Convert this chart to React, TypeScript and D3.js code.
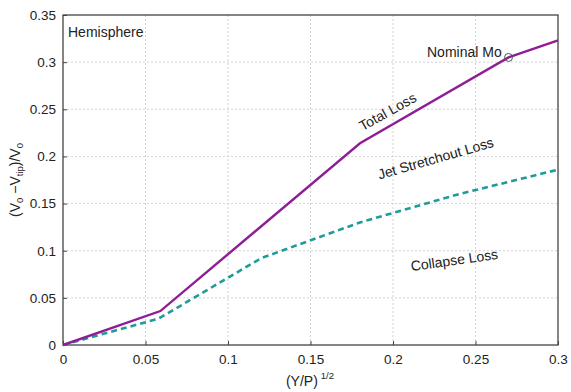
import React, { useEffect, useRef } from 'react'
import * as d3 from 'd3'

// (Y/P)^1/2 vs fractional velocity loss
const totalX = [0, 0.059, 0.18, 0.27, 0.3]
const totalY = [0, 0.036, 0.214, 0.305, 0.323]
const collapseX = [0, 0.058, 0.12, 0.18, 0.24, 0.3]
const collapseY = [0, 0.028, 0.092, 0.13, 0.16, 0.186]
const xTicks = [0, 0.05, 0.1, 0.15, 0.2, 0.25, 0.3]
const yTicks = [0, 0.05, 0.1, 0.15, 0.2, 0.25, 0.3, 0.35]
const nominal = [0.27, 0.305]

const W = 571
const H = 392
const FONT = 'Liberation Sans, Arial, sans-serif'

export default function App() {
  const ref = useRef<SVGSVGElement>(null)

  useEffect(() => {
    const node = ref.current
    if (!node) return
    const svg = d3.select(node)
    svg.selectAll('*').remove()

    const x = d3.scaleLinear().domain([0, 0.3]).range([63, 558])
    const y = d3.scaleLinear().domain([0, 0.35]).range([345, 15])

    // grid
    const grid = svg.append('g').attr('stroke', '#c8c8c8').attr('stroke-width', 0.8).attr('stroke-dasharray', '2,2')
    grid.selectAll('line.gx').data(xTicks.slice(1, -1)).join('line')
      .attr('x1', d => x(d)).attr('x2', d => x(d)).attr('y1', y(0)).attr('y2', y(0.35))
    grid.selectAll('line.gy').data(yTicks.slice(1, -1)).join('line')
      .attr('y1', d => y(d)).attr('y2', d => y(d)).attr('x1', x(0)).attr('x2', x(0.3))

    // axes
    const xAxis = svg.append('g').attr('transform', `translate(0,${y(0)})`)
      .call(d3.axisBottom(x).tickValues(xTicks).tickSize(-4).tickPadding(9).tickFormat(d => d3.format('')(+d)))
    const yAxis = svg.append('g').attr('transform', `translate(${x(0)},0)`)
      .call(d3.axisLeft(y).tickValues(yTicks).tickSize(-4).tickPadding(7).tickFormat(d => d3.format('')(+d)))
    ;[xAxis, yAxis].forEach(a => {
      a.select('.domain').remove()
      a.selectAll('line').attr('stroke', '#444')
      a.selectAll('text').attr('font-family', FONT).attr('font-size', 13.5).attr('fill', '#222')
    })

    // frame
    svg.append('rect')
      .attr('x', x(0)).attr('y', y(0.35)).attr('width', x(0.3) - x(0)).attr('height', y(0) - y(0.35))
      .attr('fill', 'none').attr('stroke', '#444').attr('stroke-width', 1.3)

    svg.append('path')
      .attr('d', d3.line<number>().x(d => x(d)).y((d, i) => y(collapseY[i]))(collapseX))
      .attr('fill', 'none').attr('stroke', '#1e9c9a').attr('stroke-width', 2.6).attr('stroke-dasharray', '6,4')

    svg.append('path')
      .attr('d', d3.line<number>().x(d => x(d)).y((d, i) => y(totalY[i]))(totalX))
      .attr('fill', 'none').attr('stroke', '#8e1e96').attr('stroke-width', 2.4)

    svg.append('circle')
      .attr('cx', x(nominal[0])).attr('cy', y(nominal[1])).attr('r', 4)
      .attr('fill', 'none').attr('stroke', '#555').attr('stroke-width', 1)

    const lbl = (t: string, px: number, py: number, rot: number, anchor = 'start') =>
      svg.append('text').attr('transform', `translate(${px},${py}) rotate(${rot})`)
        .attr('font-family', FONT).attr('font-size', 14).attr('fill', '#222').attr('text-anchor', anchor).text(t)

    lbl('Hemisphere', 68, 37, 0)
    lbl('Nominal Mo', 427, 57, 0)
    lbl('Total Loss', 390, 116, -29, 'middle')
    lbl('Jet Stretchout Loss', 437, 163, -16, 'middle')
    lbl('Collapse Loss', 455, 265, -8, 'middle')

    // y label
    const yl = svg.append('text').attr('transform', `translate(20,180) rotate(-90)`)
      .attr('font-family', FONT).attr('font-size', 14).attr('fill', '#222').attr('text-anchor', 'middle')
    yl.append('tspan').text('(V')
    yl.append('tspan').attr('font-size', 9.5).attr('dy', 3).text('0')
    yl.append('tspan').attr('dy', -3).text(' \u2212V')
    yl.append('tspan').attr('font-size', 9.5).attr('dy', 3).text('tip')
    yl.append('tspan').attr('dy', -3).text(')/V')
    yl.append('tspan').attr('font-size', 9.5).attr('dy', 3).text('0')

    const xl = svg.append('text').attr('x', 310).attr('y', 386)
      .attr('font-family', FONT).attr('font-size', 14).attr('fill', '#222').attr('text-anchor', 'middle')
    xl.append('tspan').text('(Y/P)')
    xl.append('tspan').attr('font-size', 9.5).attr('dy', -7).attr('dx', 3).text('1/2')
  }, [])

  return (
    <svg ref={ref} width={W} height={H} style={{ position: 'absolute', left: 0, top: 0, background: '#fff' }} />
  )
}
